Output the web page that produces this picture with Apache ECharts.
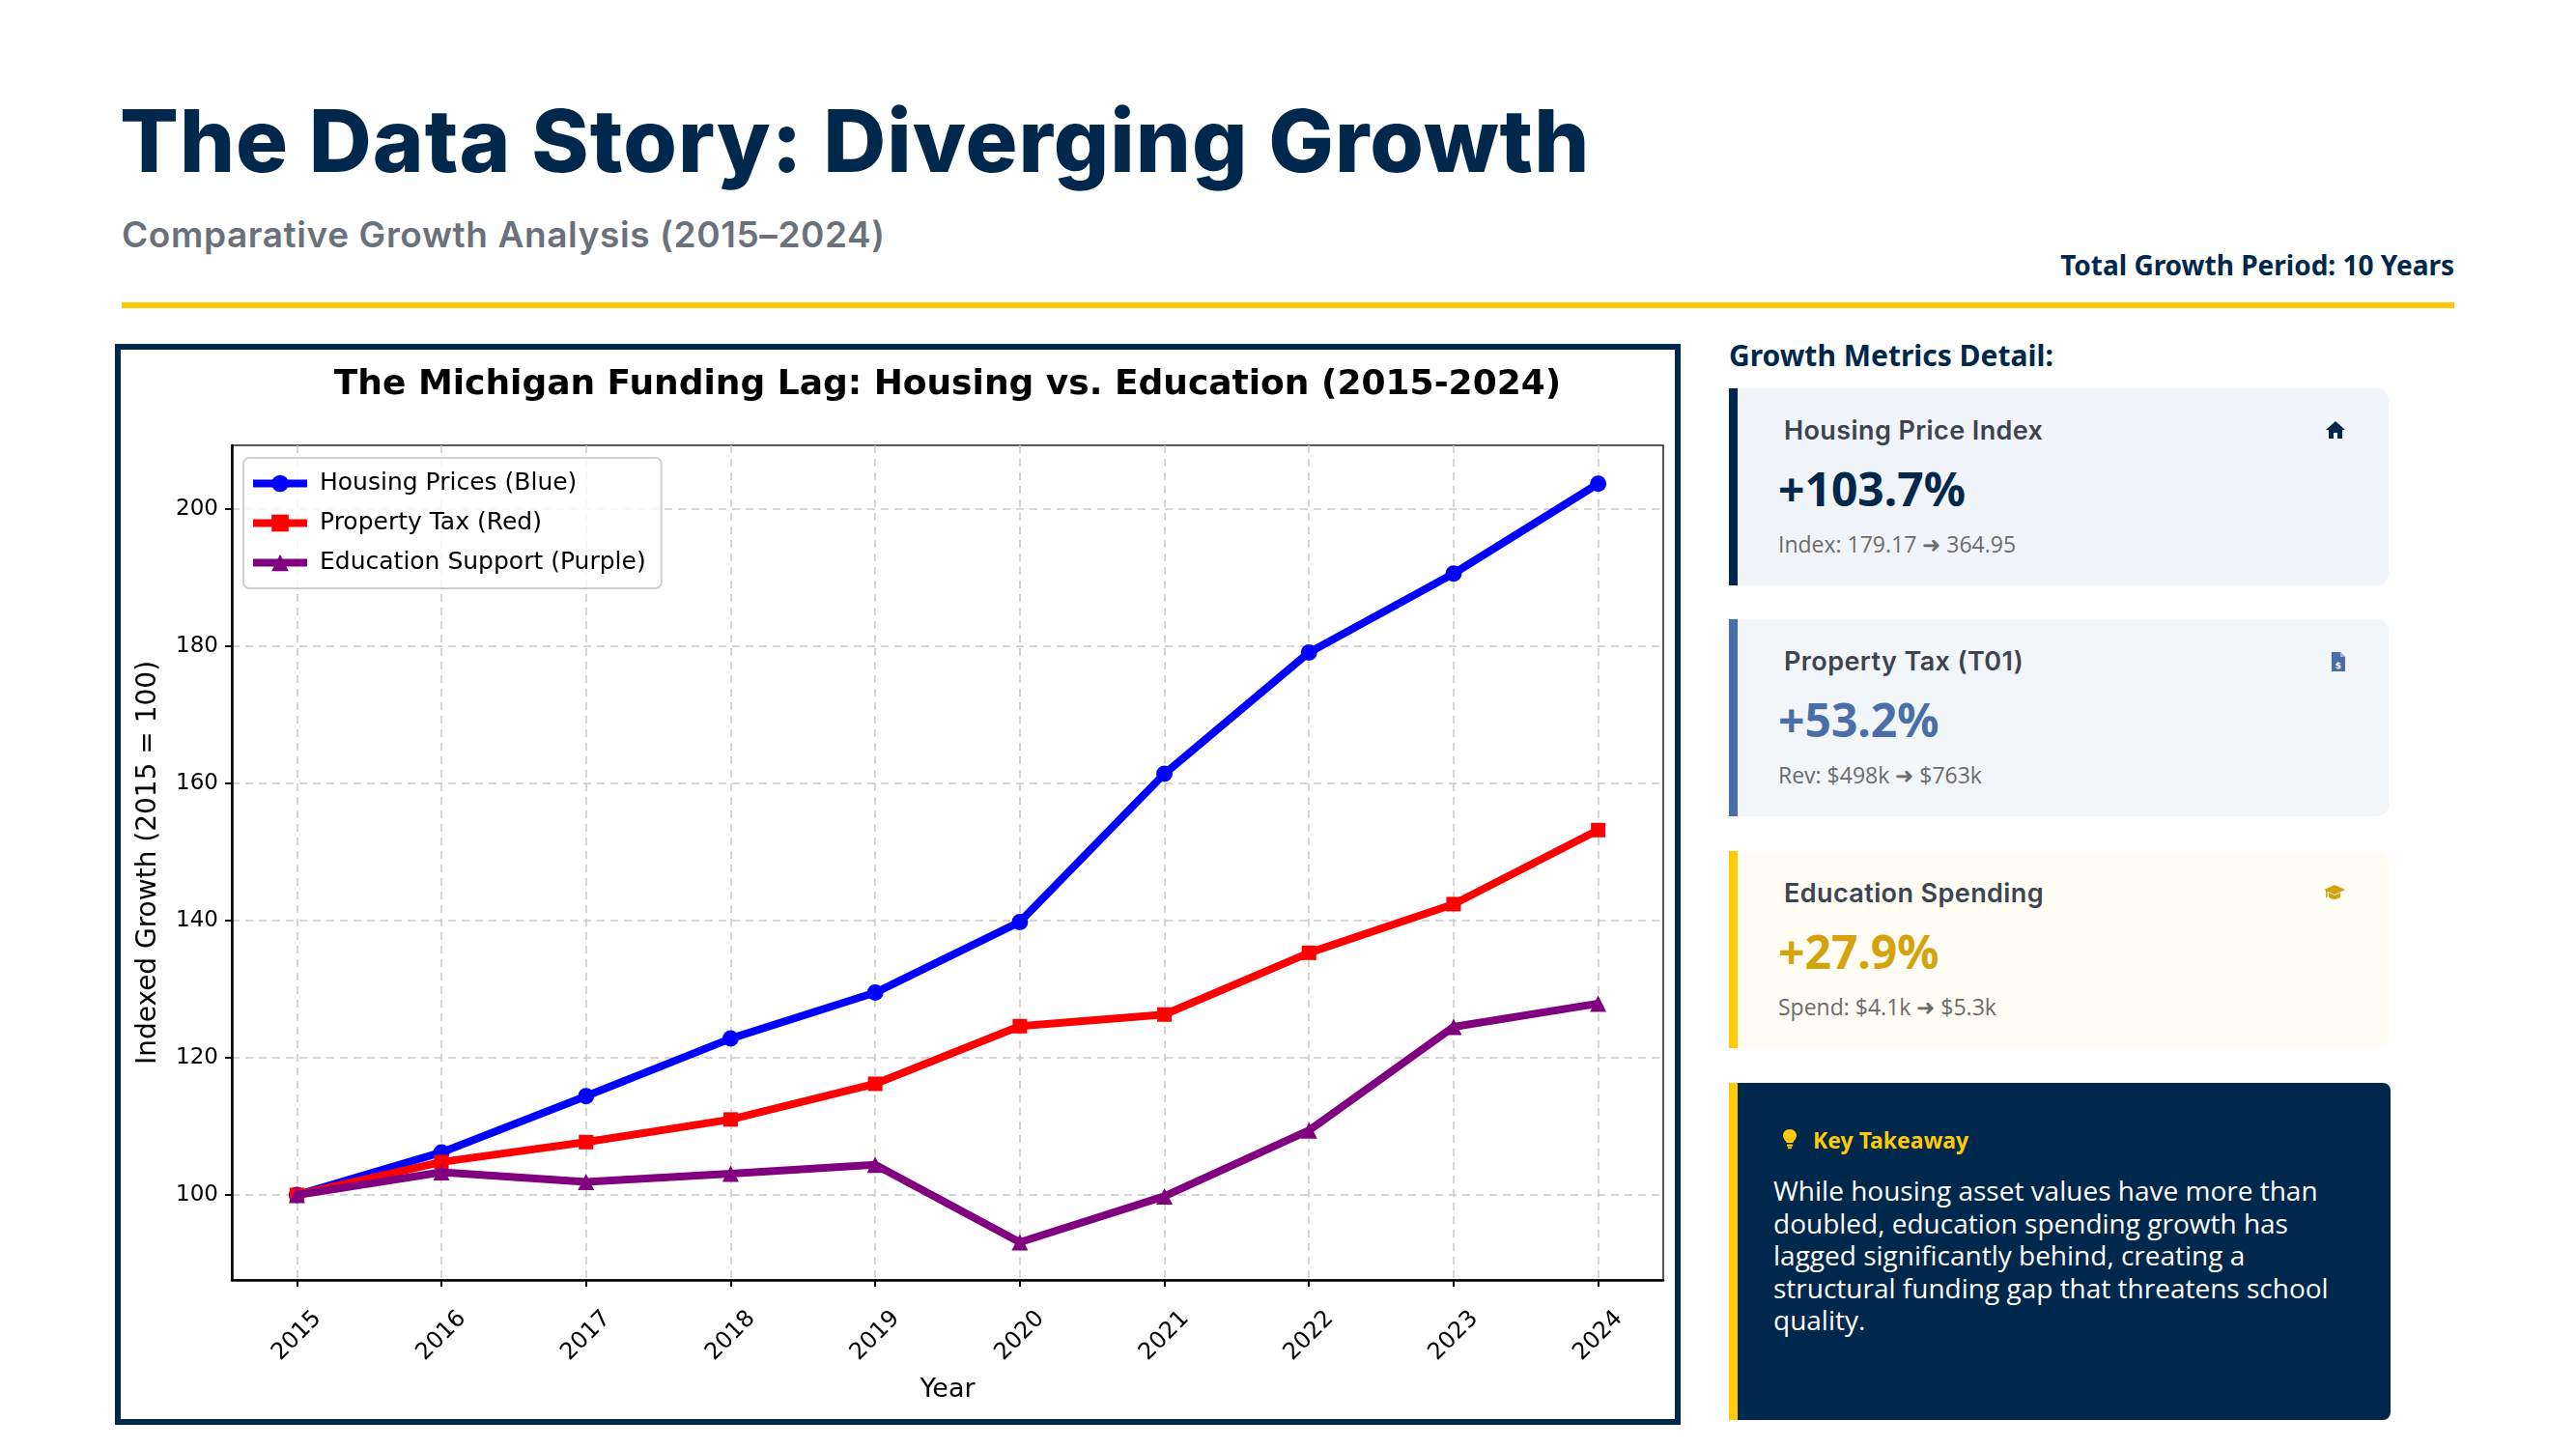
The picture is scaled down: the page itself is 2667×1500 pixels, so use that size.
<!DOCTYPE html>
<html>
<head>
<meta charset="utf-8">
<title>The Data Story: Diverging Growth</title>
<script src="https://cdn.jsdelivr.net/npm/echarts@6/dist/echarts.min.js"></script>
<style>
  html, body { margin: 0; padding: 0; background: #fff; }
  body { width: 2667px; height: 1500px; position: relative; overflow: hidden; font-family: "Noto Sans", "Open Sans", sans-serif; }
  .abs { position: absolute; white-space: nowrap; }
  #title { left: 124px; top: 96px; font-family: Inter, sans-serif; font-weight: 800; font-size: 90px; line-height: 100px; color: #00274C; letter-spacing: 1px; }
  #subtitle { left: 126px; top: 222px; font-family: Inter, sans-serif; font-weight: 600; font-size: 37px; line-height: 42px; color: #6b717a; letter-spacing: 0.6px; }
  #period { right: 126px; top: 257px; font-weight: 700; font-size: 28px; line-height: 34px; color: #00274C; }
  #rule { left: 126px; top: 313px; width: 2415px; height: 6px; background: #FFCB05; }
  #frame { left: 119px; top: 356px; width: 1621px; height: 1119px; border: 6px solid #00274C; box-sizing: border-box; background: #fff; }
  #chart { width: 1609px; height: 1107px; }
  #metricsHead { left: 1790px; top: 349px; font-weight: 700; font-size: 30px; line-height: 38px; color: #00274C; }
  .card { position: absolute; left: 1790px; width: 683px; height: 204px; box-sizing: border-box; border-left: 9px solid; border-radius: 0 12px 12px 0; }
  .card .ct { position: absolute; left: 48px; top: 27px; font-family: Inter, sans-serif; font-weight: 600; font-size: 27px; line-height: 34px; color: #3d4451; letter-spacing: 0.4px; white-space: nowrap; }
  .card .cv { position: absolute; left: 42px; top: 72px; font-weight: 700; font-size: 48px; line-height: 64px; white-space: nowrap; }
  .card .cs { position: absolute; left: 42px; top: 146px; font-family: "Open Sans", sans-serif; font-size: 23px; line-height: 30px; color: #6b6b6b; white-space: nowrap; }
  .card svg { position: absolute; right: 44px; top: 33px; }
  #take { position: absolute; left: 1790px; top: 1121px; width: 685px; height: 349px; box-sizing: border-box; background: #00274C; border-left: 9px solid #FFCB05; border-radius: 0 8px 8px 0; }
  #take .kt { position: absolute; left: 78px; top: 44px; font-weight: 700; font-size: 23px; line-height: 30px; color: #FFCB05; white-space: nowrap; }
  #take svg { position: absolute; left: 46px; top: 47px; }
  #take .kb { position: absolute; left: 37px; top: 95px; font-family: "Open Sans", sans-serif; font-size: 28px; line-height: 33.5px; color: #fff; white-space: nowrap; }
</style>
</head>
<body>
<div id="title" class="abs">The Data Story: Diverging Growth</div>
<div id="subtitle" class="abs">Comparative Growth Analysis (2015–2024)</div>
<div id="period" class="abs">Total Growth Period: 10 Years</div>
<div id="rule" class="abs"></div>

<div id="frame" class="abs"><div id="chart"></div></div>

<div id="metricsHead" class="abs">Growth Metrics Detail:</div>

<div class="card" style="top:402px; border-left-color:#00274C; background:#f1f4f8;">
  <div class="ct">Housing Price Index</div>
  <svg width="22" height="20" viewBox="0 0 22 20"><path d="M11 1 L21 10 L18 10 L18 19 L13 19 L13 13 L9 13 L9 19 L4 19 L4 10 L1 10 Z" fill="#00274C"/></svg>
  <div class="cv" style="color:#00274C;">+103.7%</div>
  <div class="cs">Index: 179.17 ➜ 364.95</div>
</div>

<div class="card" style="top:641px; border-left-color:#4a6fa8; background:#f3f6f9;">
  <div class="ct">Property Tax (T01)</div>
  <svg width="16" height="22" viewBox="0 0 16 22"><path d="M1 1 L10 1 L15 6 L15 21 L1 21 Z" fill="#4a6fa8"/><path d="M10 1 L10 6 L15 6" fill="#9fb4d6"/><text x="8" y="18" font-size="9" font-weight="700" text-anchor="middle" fill="#fff" font-family="DejaVu Sans">$</text></svg>
  <div class="cv" style="color:#4a6fa8;">+53.2%</div>
  <div class="cs">Rev: $498k ➜ $763k</div>
</div>

<div class="card" style="top:881px; border-left-color:#FFCB05; background:#fffdf3;">
  <div class="ct">Education Spending</div>
  <svg width="24" height="20" viewBox="0 0 24 20"><path d="M12 2 L23 7 L12 12 L1 7 Z" fill="#D4A20B"/><path d="M6 10 L6 15 Q12 19 18 15 L18 10 L12 13 Z" fill="#D4A20B"/><rect x="3" y="7" width="1.6" height="8" fill="#D4A20B"/></svg>
  <div class="cv" style="color:#D4A20B;">+27.9%</div>
  <div class="cs">Spend: $4.1k ➜ $5.3k</div>
</div>

<div id="take">
  <svg width="16" height="22" viewBox="0 0 16 22"><path d="M8 1 C3.5 1 1 4.2 1 7.5 C1 11 4 12.5 4.5 15 L11.5 15 C12 12.5 15 11 15 7.5 C15 4.2 12.5 1 8 1 Z" fill="#FFCB05"/><rect x="4.8" y="16.5" width="6.4" height="2.2" rx="1" fill="#FFCB05"/><rect x="5.8" y="19.3" width="4.4" height="2" rx="1" fill="#FFCB05"/></svg>
  <div class="kt">Key Takeaway</div>
  <div class="kb">While housing asset values have more than<br>doubled, education spending growth has<br>lagged significantly behind, creating a<br>structural funding gap that threatens school<br>quality.</div>
</div>

<script>
// values (index, 2015 = 100)
const years = [2015, 2016, 2017, 2018, 2019, 2020, 2021, 2022, 2023, 2024];
const housingPrices = [100, 106.2, 114.4, 122.8, 129.5, 139.8, 161.4, 179.1, 190.6, 203.7];
const propertyTax = [100, 104.8, 107.7, 111.0, 116.2, 124.6, 126.3, 135.3, 142.4, 153.2];
const educationSupport = [100, 103.3, 101.9, 103.1, 104.4, 93.1, 99.8, 109.4, 124.5, 127.9];
const yTicks = [100, 120, 140, 160, 180, 200];

const seriesNames = ['Housing Prices (Blue)', 'Property Tax (Red)', 'Education Support (Purple)'];
const seriesColors = ['#0000ff', '#ff0000', '#800080'];
const seriesSymbols = ['circle', 'rect', 'triangle'];
const seriesValues = [housingPrices, propertyTax, educationSupport];

const FONT = '"DejaVu Sans", sans-serif';

const myChart = echarts.init(document.getElementById('chart'), null, { renderer: 'canvas' });

const option = {
  animation: false,
  title: {
    text: 'The Michigan Funding Lag: Housing vs. Education (2015-2024)',
    left: 856,
    top: 19,
    textAlign: 'center',
    padding: 0,
    textStyle: { fontFamily: FONT, fontWeight: 'bold', fontSize: 36, color: '#000' }
  },
  legend: {
    orient: 'vertical',
    left: 127,
    top: 112,
    padding: [14, 16, 14, 6],
    itemWidth: 56,
    itemHeight: 22,
    itemGap: 16,
    backgroundColor: 'rgba(255,255,255,0.85)',
    borderColor: '#d0d0d0',
    borderWidth: 2,
    borderRadius: 6,
    lineStyle: { width: 8 },
    textStyle: { fontFamily: FONT, fontSize: 25, color: '#000', padding: [0, 0, 0, 8] },
    data: seriesNames
  },
  grid: {
    left: 115, top: 99, right: 12, bottom: 144,
    show: true, borderColor: '#222', borderWidth: 1.5, backgroundColor: 'transparent'
  },
  xAxis: {
    type: 'value',
    min: 2014.55,
    max: 2024.45,
    name: 'Year',
    nameLocation: 'middle',
    nameGap: 100,
    nameTextStyle: { fontFamily: FONT, fontSize: 27, color: '#000' },
    axisLine: { show: true, lineStyle: { color: '#000', width: 2.5 } },
    axisTick: { show: true, customValues: years, length: 7, lineStyle: { color: '#000', width: 2 } },
    axisLabel: {
      customValues: years,
      rotate: 45, align: 'center', verticalAlign: 'middle', margin: 58,
      fontFamily: FONT, fontSize: 24, color: '#000',
      formatter: v => String(v)
    },
    splitLine: { show: true, lineStyle: { color: '#c8c8c8', width: 1.5, type: [8, 6] } }
  },
  yAxis: {
    type: 'value',
    min: 87.6,
    max: 209.3,
    name: 'Indexed Growth (2015 = 100)',
    nameLocation: 'middle',
    nameRotate: 90,
    nameGap: 72,
    nameTextStyle: { fontFamily: FONT, fontSize: 28, color: '#000' },
    axisLine: { show: true, lineStyle: { color: '#000', width: 2.5 } },
    axisTick: { show: true, customValues: yTicks, length: 7, lineStyle: { color: '#000', width: 2 } },
    axisLabel: { customValues: yTicks, margin: 14, fontFamily: FONT, fontSize: 23, color: '#000' },
    splitLine: { show: true, lineStyle: { color: '#c8c8c8', width: 1.5, type: [8, 6] } }
  },
  series: seriesNames.map((name, i) => ({
    name: name,
    type: 'line',
    data: years.map((y, j) => [y, seriesValues[i][j]]),
    symbol: seriesSymbols[i],
    symbolSize: i === 1 ? 15 : 17,
    showAllSymbol: true,
    lineStyle: { color: seriesColors[i], width: 8 },
    itemStyle: { color: seriesColors[i] },
    z: 2 + i
  }))
};

myChart.setOption(option);
</script>
</body>
</html>
